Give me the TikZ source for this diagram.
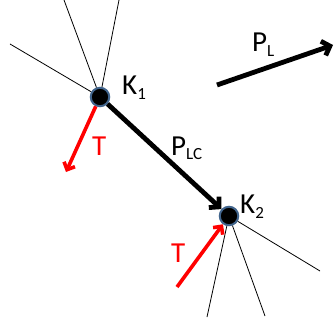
\documentclass[tikz,border=0pt]{standalone}
\usepackage{fontspec}
\setmainfont{Carlito}
\usetikzlibrary{arrows.meta}
\definecolor{knotblue}{HTML}{41648C}
\newcommand{\lowidx}[1]{\raisebox{-5pt}{\fontsize{17}{17}\selectfont #1}}
\begin{document}
\begin{tikzpicture}[x=1pt, y=-1pt,
    knot/.style={circle, fill=black, draw=knotblue, line width=2pt, minimum size=18.5pt, inner sep=0pt},
    edge/.style={line width=0.8pt},
    bigarrow/.style={-{Straight Barb[length=7pt, width=15pt]}, line width=4.8pt},
    tarrow/.style={-{Straight Barb[length=6pt, width=12pt]}, line width=3.6pt, red},
    lbl/.style={anchor=base west, inner sep=0pt, font=\fontsize{29}{32}\selectfont}
]
\useasboundingbox (0,0) rectangle (334,323);
% knoten
\node[knot] (k1) at (100,97) {};
\node[knot] (k2) at (229,216) {};
% kanten am ersten knoten
\coordinate (a1) at (64,0);
\coordinate (a2) at (119,0);
\coordinate (a3) at (10,44);
\draw[edge] (k1) -- (a1);
\draw[edge] (k1) -- (a2);
\draw[edge] (k1) -- (a3);
% kanten am zweiten knoten
\coordinate (b1) at (207,317);
\coordinate (b2) at (265,316);
\coordinate (b3) at (320,271);
\draw[edge] (k2) -- (b1);
\draw[edge] (k2) -- (b2);
\draw[edge] (k2) -- (b3);
% verbindung
\draw[bigarrow] (k1) -- (k2);
\coordinate (pl1) at (217,85);
\coordinate (pl2) at (333,45);
\draw[bigarrow] (pl1) -- (pl2);
% tangenten
\coordinate (t1) at (66,172);
\coordinate (t2) at (177,287);
\draw[tarrow] (k1) -- (t1);
\draw[tarrow] (t2) -- (k2);
% beschriftung
\node[lbl] (lk1) at (122,95) {K\lowidx{1}};
\node[lbl] (lk2) at (240,213) {K\lowidx{2}};
\node[lbl, red] (lt1) at (92,155) {T};
\node[lbl, red] (lt2) at (171,262) {T};
\node[lbl] (lpl) at (252,52) {P\lowidx{L}};
\node[lbl] (lplc) at (171,155) {P\lowidx{LC}};
\end{tikzpicture}
\end{document}
